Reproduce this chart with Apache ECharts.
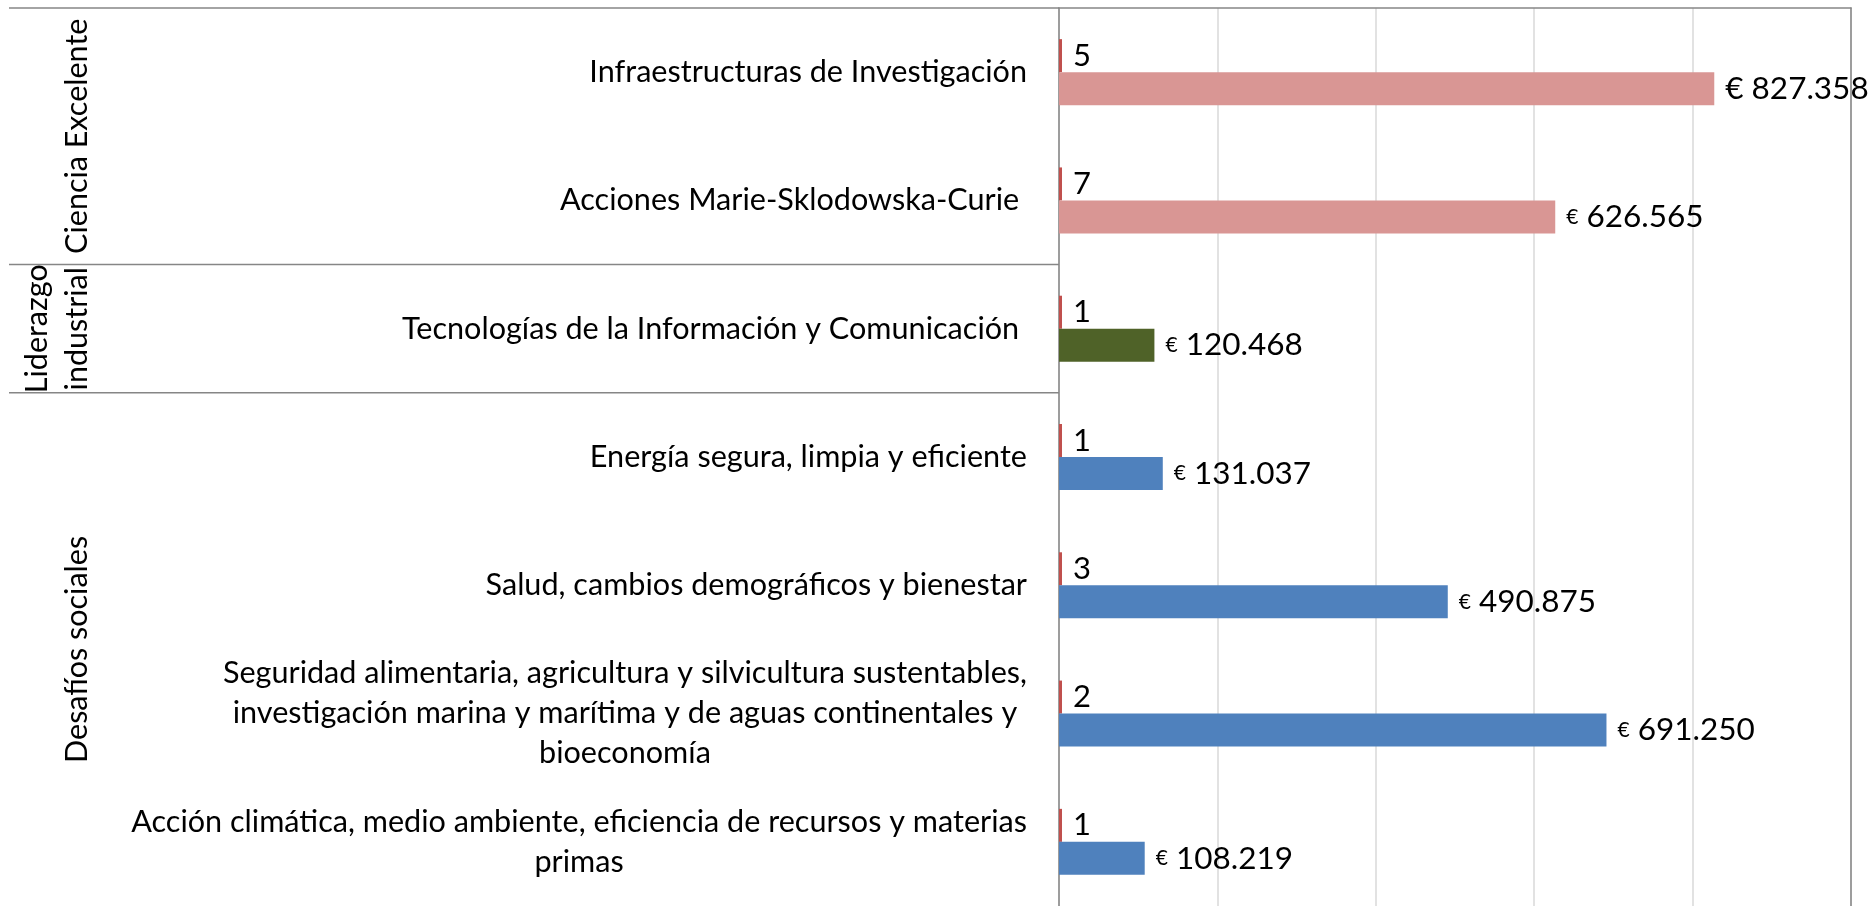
<!DOCTYPE html>
<html><head><meta charset="utf-8">
<script src="https://cdn.jsdelivr.net/npm/echarts@6/dist/echarts.min.js"></script>
<style>html,body{margin:0;padding:0;background:#fff;}#c{width:1868px;height:906px;}</style>
</head><body><div id="c"></div>
<script>
// ---- data ----
const categories = [
  'Infraestructuras de Investigación',
  'Acciones Marie-Sklodowska-Curie ',
  'Tecnologías de la Información y Comunicación ',
  'Energía segura, limpia y eficiente',
  'Salud, cambios demográficos y bienestar',
  'Seguridad alimentaria, agricultura y silvicultura sustentables,\ninvestigación marina y marítima y de aguas continentales y\nbioeconomía',
  'Acción climática, medio ambiente, eficiencia de recursos y materias\nprimas'
];
const projectCounts = [5, 7, 1, 1, 3, 2, 1];
const fundingEUR = [827358, 626565, 120468, 131037, 490875, 691250, 108219];
const groupNames = ['Ciencia Excelente', 'Liderazgo\nindustrial', 'Desafíos sociales'];
const groupSizes = [2, 1, 4];
const axisMin = 0, axisMax = 1000000, axisStep = 200000;

// ---- styles ----
const FONT = 'Lato';
const groupColors = ['#D99694', '#4F6228', '#4F81BD'];
const countColor = '#C0504D';
const lineGray = '#868686';

const groupStarts = [];
groupSizes.reduce((acc, s) => { groupStarts.push(acc); return acc + s; }, 0);
function groupOf(i) {
  for (let g = groupStarts.length - 1; g >= 0; g--) if (i >= groupStarts[g]) return g;
  return 0;
}
function fmtNum(v) { return String(v).replace(/\B(?=(\d{3})+(?!\d))/g, '.'); }

const chart = echarts.init(document.getElementById('c'));
chart.setOption({
  animation: false,
  backgroundColor: '#fff',
  textStyle: { fontFamily: FONT },
  grid: [
    { left: 1059, right: 17, top: 8, height: 901 },
    { left: 9, width: 1050, top: 8, height: 901 }
  ],
  xAxis: [
    { gridIndex: 0, type: 'value', position: 'top', min: axisMin, max: axisMax, interval: axisStep,
      axisLine: { show: true, lineStyle: { color: lineGray, width: 1.5 } },
      axisTick: { show: false }, axisLabel: { show: false },
      splitLine: { show: true, lineStyle: { color: '#D9D9D9', width: 1.5 } } },
    { gridIndex: 1, type: 'value', min: 0, max: 1, show: false }
  ],
  yAxis: [
    { gridIndex: 0, type: 'category', inverse: true, data: categories,
      axisLine: { show: true, lineStyle: { color: lineGray, width: 1.5 } },
      axisTick: { show: false },
      axisLabel: { margin: 32, color: '#000', fontFamily: FONT, fontSize: 30.6, lineHeight: 40,
        formatter: v => v.split('\n').map(l => '{c|' + l + '}').join('\n'),
        rich: { c: { align: 'center', fontFamily: FONT, fontSize: 30.6, lineHeight: 40, color: '#000' } } } },
    { gridIndex: 0, type: 'category', inverse: true, position: 'right', data: categories,
      axisLine: { show: true, lineStyle: { color: lineGray, width: 1.5 } },
      axisTick: { show: false }, axisLabel: { show: false }, splitLine: { show: false } },
    { gridIndex: 1, type: 'value', inverse: true, min: 0, max: categories.length, show: false }
  ],
  series: [
    { type: 'bar', xAxisIndex: 0, yAxisIndex: 0, data: projectCounts,
      barWidth: 33, barGap: '0%', barMinHeight: 3,
      itemStyle: { color: countColor },
      label: { show: true, position: 'right', distance: 11, color: '#000', fontFamily: FONT, fontSize: 31 } },
    { type: 'bar', xAxisIndex: 0, yAxisIndex: 0, data: fundingEUR,
      barWidth: 33, barGap: '0%',
      itemStyle: { color: p => groupColors[groupOf(p.dataIndex)] },
      label: { show: true, position: 'right', distance: 11, color: '#000', fontFamily: FONT, fontSize: 31.5,
        formatter: p => (p.dataIndex === 0 ? '€ ' : '{e|€} ') + fmtNum(p.value),
        rich: { e: { fontSize: 21, fontFamily: FONT, color: '#000' } } } },
    { type: 'custom', xAxisIndex: 1, yAxisIndex: 2, coordinateSystem: 'cartesian2d',
      data: groupSizes.map((s, i) => [0, groupStarts[i], s]),
      encode: { x: 0, y: 1 },
      renderItem: (params, api) => {
        const start = api.value(1), size = api.value(2);
        const yTop = api.coord([0, start])[1];
        const yBot = api.coord([0, start + size])[1];
        const cs = params.coordSys;
        return { type: 'group', children: [
          { type: 'line', shape: { x1: cs.x, y1: yTop, x2: cs.x + cs.width, y2: yTop },
            style: { stroke: lineGray, lineWidth: 1.5 } },
          { type: 'text', x: 97, y: (yTop + yBot) / 2, rotation: Math.PI / 2,
            style: { text: groupNames[params.dataIndex], fontFamily: FONT, fontSize: 30.5, lineHeight: 40,
              fill: '#000', align: 'center', verticalAlign: 'bottom' } }
        ] };
      } }
  ]
});
</script></body></html>
